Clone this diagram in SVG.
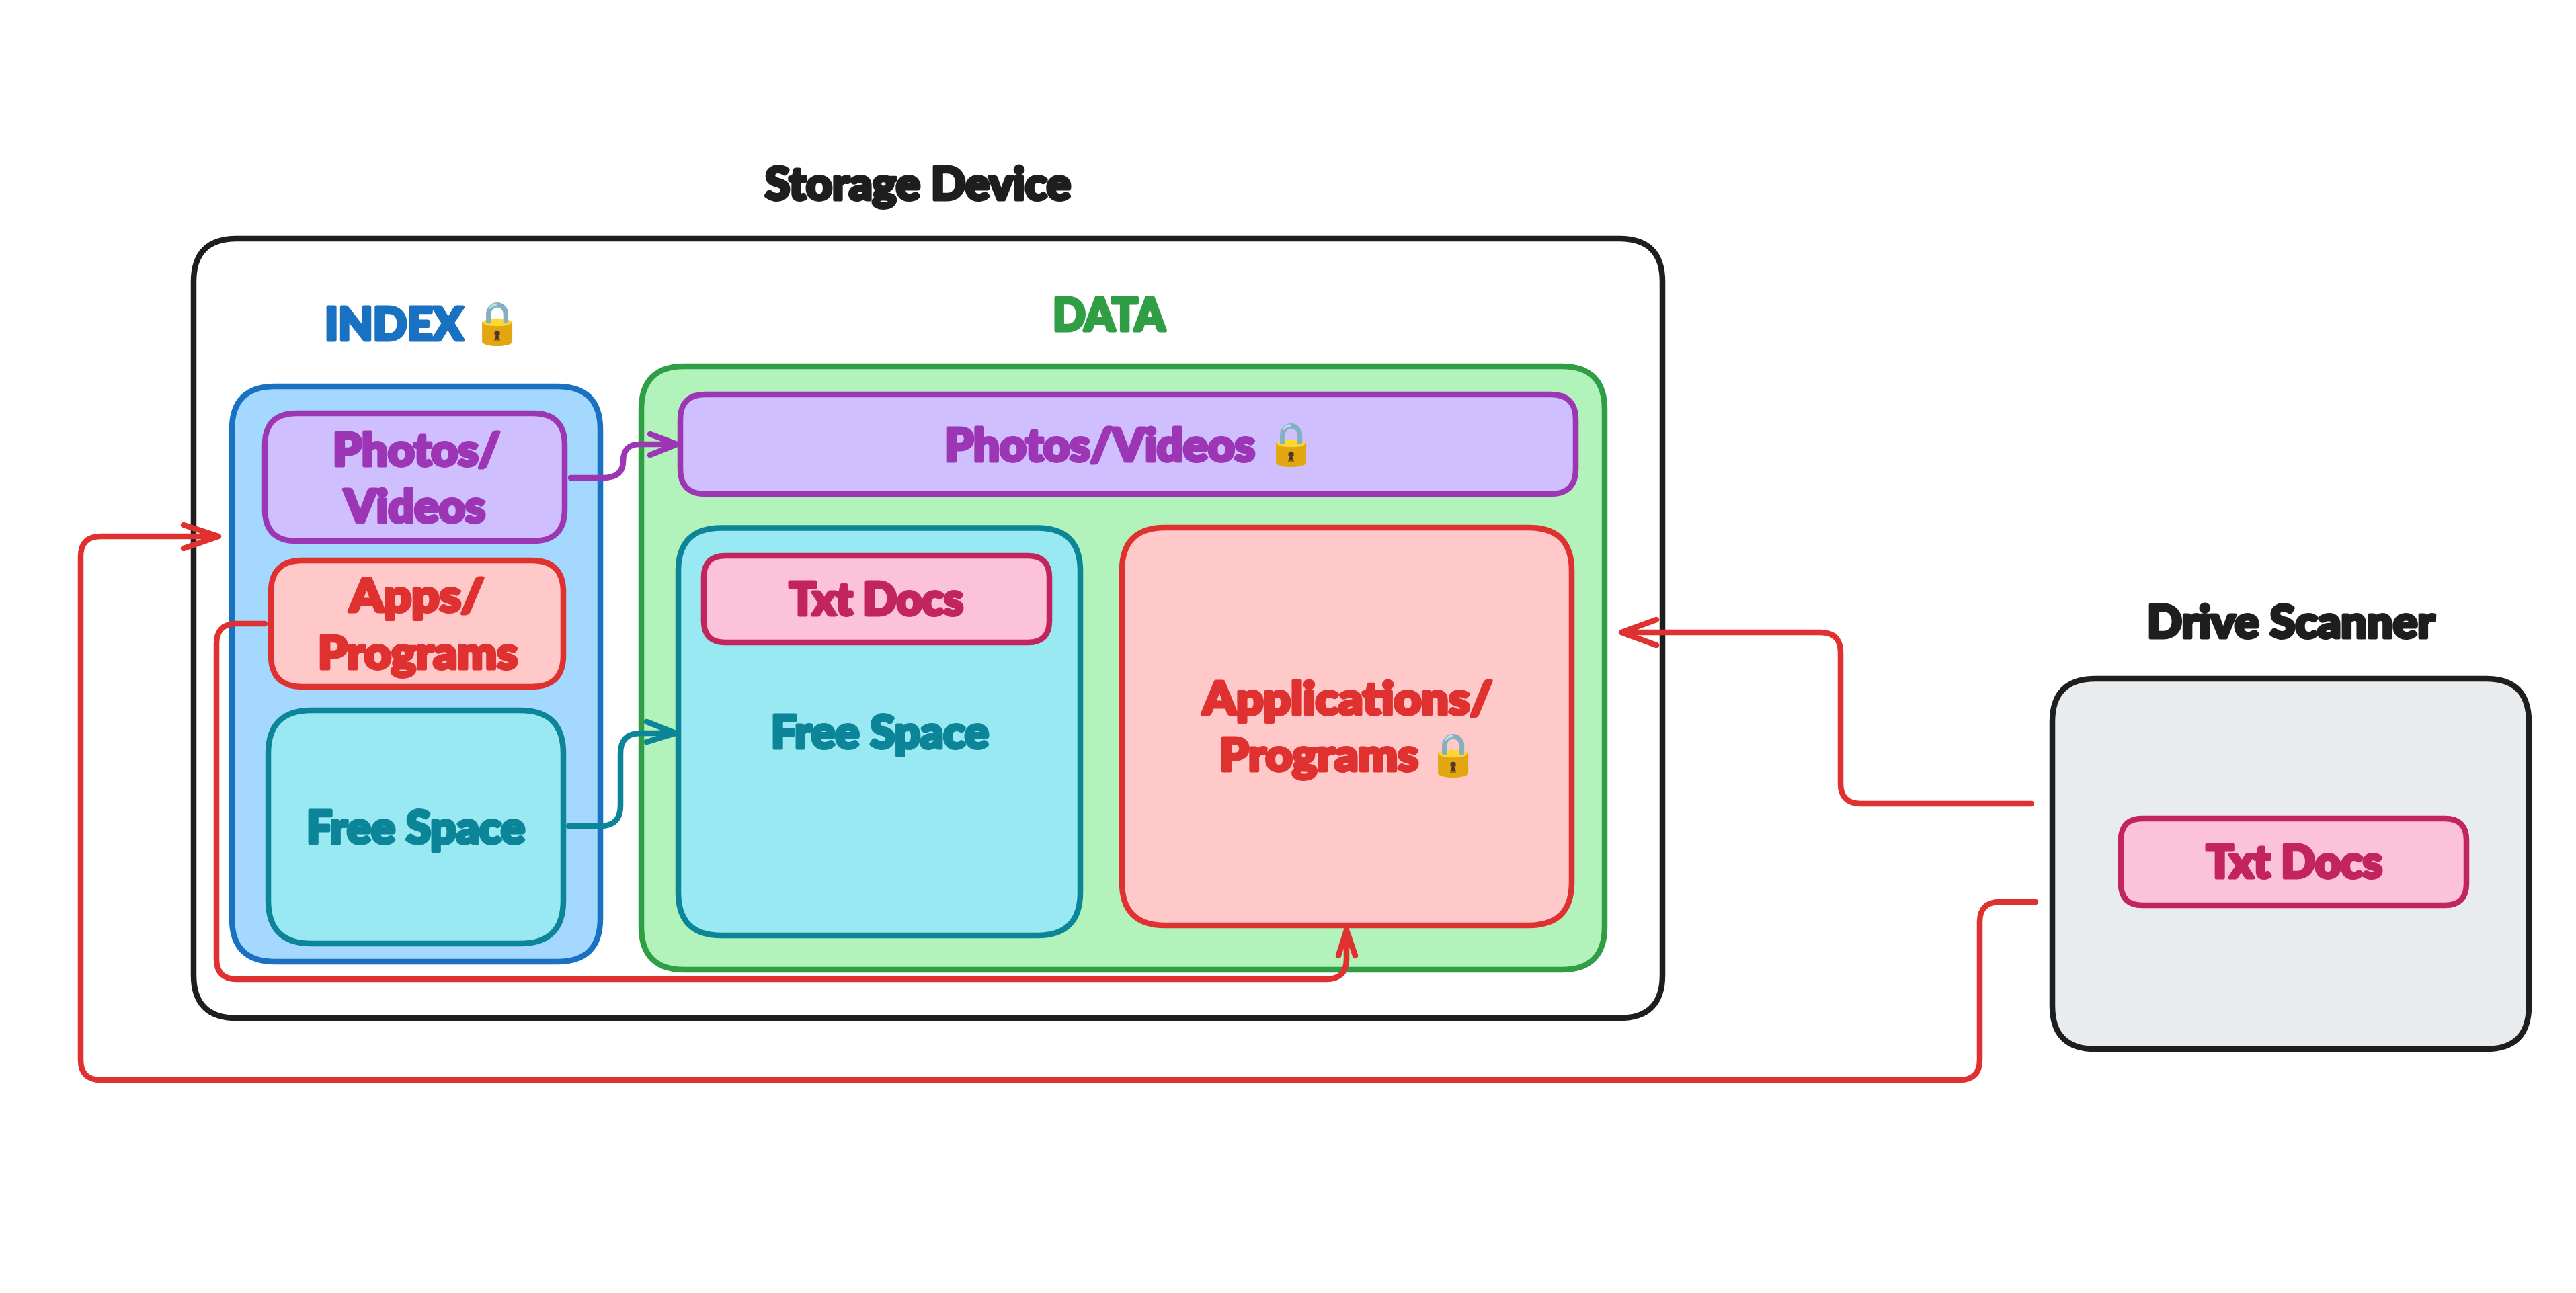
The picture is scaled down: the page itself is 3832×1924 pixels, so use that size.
<svg xmlns="http://www.w3.org/2000/svg" width="3832" height="1924" viewBox="0 0 3832 1924">
<style>
.box{stroke-width:8.5;stroke-linejoin:round}
.k{stroke:#1e1e1e}.b{stroke:#1971c2;fill:#a5d8ff}.p{stroke:#9c36b5;fill:#d0bfff}.r{stroke:#e03131;fill:#ffc9c9}.t{stroke:#0c8599;fill:#99e9f2}.g{stroke:#2f9e44;fill:#b2f2bb}.n{stroke:#c2255c;fill:#fcc2d7}
.c{fill:none;stroke-width:8.5;stroke-linecap:round;stroke-linejoin:round}
text{font-family:"Lato","Roboto",sans-serif;font-weight:900;font-size:67px;stroke-width:5;stroke-linejoin:round}
.tk{fill:#1e1e1e;stroke:#1e1e1e}.tb{fill:#1971c2;stroke:#1971c2}.tp{fill:#9c36b5;stroke:#9c36b5}.tr{fill:#e03131;stroke:#e03131}.tt{fill:#0c8599;stroke:#0c8599}.tg{fill:#2f9e44;stroke:#2f9e44}.tn{fill:#c2255c;stroke:#c2255c}
.emoji{font-family:"Noto Sans","DejaVu Sans",sans-serif;font-weight:400;font-size:62px;stroke:none}
</style>
<g id="storage-device">
<text class="tk" x="1138" y="296.5" textLength="455" lengthAdjust="spacingAndGlyphs">Storage Device</text>
<path class="box k" fill="#fff" d="M352,355H2409Q2473,355 2473,419V1451Q2473,1515 2409,1515H352Q288,1515 288,1451V419Q288,355 352,355Z"/>
</g>
<g id="index">
<path class="box b" d="M409,575H829Q893,575 893,639V1367Q893,1431 829,1431H409Q345,1431 345,1367V639Q345,575 409,575Z"/>
<text class="tb" x="483" y="505.5" textLength="206" lengthAdjust="spacingAndGlyphs">INDEX</text>
<text class="emoji" x="701" y="502">🔒</text>
</g>
<g id="index-photos">
<path class="box p" d="M441,615H793Q840,615 840,662V758Q840,805 793,805H441Q394,805 394,758V662Q394,615 441,615Z"/>
<text class="tp" x="495" y="693" textLength="249" lengthAdjust="spacingAndGlyphs">Photos/</text>
<text class="tp" x="512" y="776.5" textLength="210" lengthAdjust="spacingAndGlyphs">Videos</text>
</g>
<g id="index-apps">
<path class="box r" d="M450,834H791Q838,834 838,881V975Q838,1022 791,1022H450Q403,1022 403,975V881Q403,834 450,834Z"/>
<text class="tr" x="520" y="910" textLength="200" lengthAdjust="spacingAndGlyphs">Apps/</text>
<text class="tr" x="473" y="994.5" textLength="297" lengthAdjust="spacingAndGlyphs">Programs</text>
</g>
<g id="index-free">
<path class="box t" d="M463,1057H774Q838,1057 838,1121V1340Q838,1404 774,1404H463Q399,1404 399,1340V1121Q399,1057 463,1057Z"/>
<text class="tt" x="456" y="1254.5" textLength="325" lengthAdjust="spacingAndGlyphs">Free Space</text>
</g>
<g id="data">
<path class="box g" d="M1018,545H2323Q2387,545 2387,609V1379Q2387,1443 2323,1443H1018Q954,1443 954,1379V609Q954,545 1018,545Z"/>
<text class="tg" x="1566" y="491.5" textLength="167" lengthAdjust="spacingAndGlyphs">DATA</text>
</g>
<g id="data-photos">
<path class="box p" d="M1049,587H2307Q2344,587 2344,624V698Q2344,735 2307,735H1049Q1012,735 1012,698V624Q1012,587 1049,587Z"/>
<text class="tp" x="1405" y="685.5" textLength="462" lengthAdjust="spacingAndGlyphs">Photos/Videos</text>
<text class="emoji" x="1882" y="682">🔒</text>
</g>
<g id="data-free">
<path class="box t" d="M1073,785.500H1543Q1607,785.500 1607,849.500V1328Q1607,1392 1543,1392H1073Q1009,1392 1009,1328V849.500Q1009,785.500 1073,785.500Z"/>
<text class="tt" x="1147" y="1112.500" textLength="324" lengthAdjust="spacingAndGlyphs">Free Space</text>
</g>
<g id="data-txt">
<path class="box n" d="M1079,827H1529Q1561,827 1561,859V924Q1561,956 1529,956H1079Q1047,956 1047,924V859Q1047,827 1079,827Z"/>
<text class="tn" x="1174" y="915" textLength="259" lengthAdjust="spacingAndGlyphs">Txt Docs</text>
</g>
<g id="data-apps">
<path class="box r" d="M1733,785H2274Q2338,785 2338,849V1313Q2338,1377 2274,1377H1733Q1669,1377 1669,1313V849Q1669,785 1733,785Z"/>
<text class="tr" x="1789" y="1062.500" textLength="431" lengthAdjust="spacingAndGlyphs">Applications/</text>
<text class="tr" x="1814" y="1146.500" textLength="296" lengthAdjust="spacingAndGlyphs">Programs</text>
<text class="emoji" x="2123" y="1144">🔒</text>
</g>
<g id="drive-scanner">
<text class="tk" x="3194" y="948.500" textLength="428" lengthAdjust="spacingAndGlyphs">Drive Scanner</text>
<path class="box k" fill="#e9ecef" d="M3117,1010H3698Q3762,1010 3762,1074V1497Q3762,1561 3698,1561H3117Q3053,1561 3053,1497V1074Q3053,1010 3117,1010Z"/>
</g>
<g id="scanner-txt">
<path class="box n" d="M3187,1218H3637Q3669,1218 3669,1250V1315Q3669,1347 3637,1347H3187Q3155,1347 3155,1315V1250Q3155,1218 3187,1218Z"/>
<text class="tn" x="3282" y="1305.500" textLength="262" lengthAdjust="spacingAndGlyphs">Txt Docs</text>
</g>
<g id="connectors">
<path class="c" stroke="#9c36b5" d="M849,711H897Q927,711 927,686Q927,661 952,661H1007M967,646L1007,661L967,677"/>
<path class="c" stroke="#0c8599" d="M846,1229H893Q923,1229 923,1199V1121Q923,1091 953,1091H1005M962,1074L1005,1091L962,1104"/>
<path class="c" stroke="#e03131" d="M394,928H352Q322,928 322,958V1427Q322,1457 352,1457H1973Q2003,1457 2003,1427V1384M1991,1422L2003,1384L2016,1422"/>
<path class="c" stroke="#e03131" d="M3028,1342H2975Q2945,1342 2945,1372V1577Q2945,1607 2915,1607H150Q120,1607 120,1577V828Q120,798 150,798H325M273,781L325,798L273,816"/>
<path class="c" stroke="#e03131" d="M3022,1196H2768Q2738,1196 2738,1166V971Q2738,941 2708,941H2412M2464,922L2412,941L2464,960"/>
</g>
</svg>
